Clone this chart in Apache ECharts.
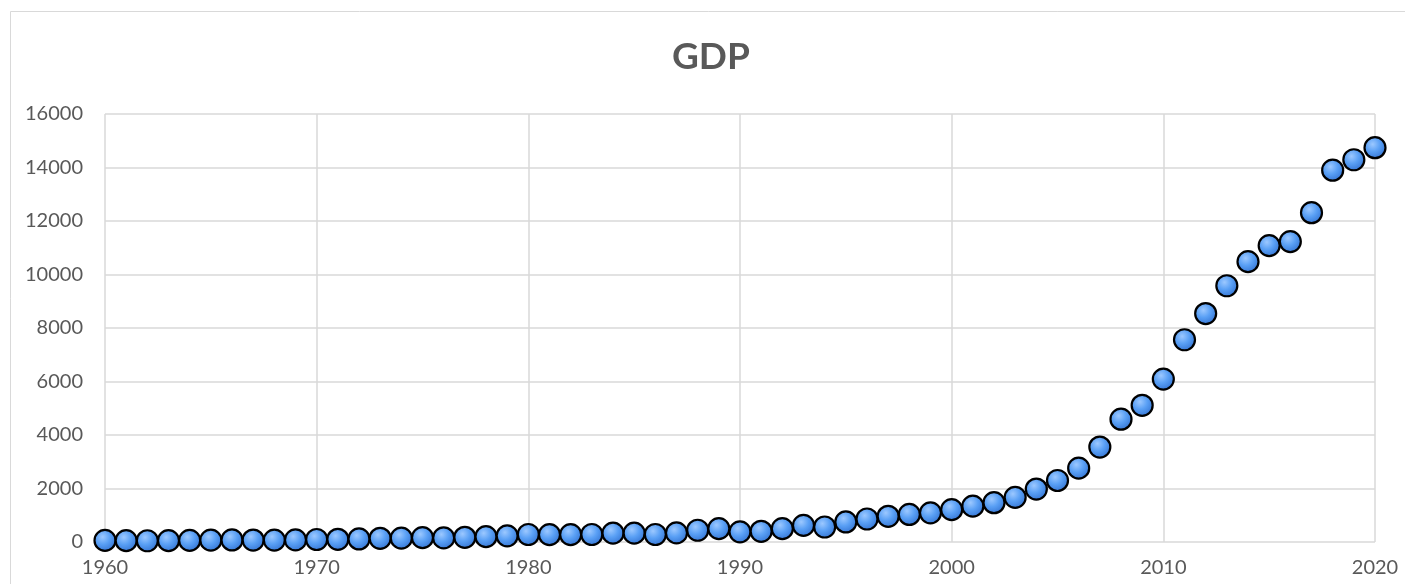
<!DOCTYPE html>
<html>
<head>
<meta charset="utf-8">
<script src="https://cdn.jsdelivr.net/npm/echarts@6/dist/echarts.min.js"></script>
<style>
html,body{margin:0;padding:0;background:#fff;}
#chart{width:1405px;height:584px;}
</style>
</head>
<body>
<div id="chart"></div>
<script>
const years = [1960,1961,1962,1963,1964,1965,1966,1967,1968,1969,
  1970,1971,1972,1973,1974,1975,1976,1977,1978,1979,
  1980,1981,1982,1983,1984,1985,1986,1987,1988,1989,
  1990,1991,1992,1993,1994,1995,1996,1997,1998,1999,
  2000,2001,2002,2003,2004,2005,2006,2007,2008,2009,
  2010,2011,2012,2013,2014,2015,2016,2017,2018,2019,2020];
const gdp = [60,50,47,51,60,70,77,73,71,79,
  93,100,114,139,144,163,154,175,200,230,
  280,275,275,280,330,330,280,340,440,500,
  380,400,500,620,560,750,860,960,1030,1090,
  1210,1340,1470,1670,1980,2300,2760,3550,4590,5110,
  6090,7560,8540,9580,10480,11080,11230,12310,13900,14290,14740];
const yTicks = {min:0, max:16000, interval:2000};
const xTicks = {min:1960, max:2020, interval:10};

const points = years.map((y,i)=>[y,gdp[i]]);
const chart = echarts.init(document.getElementById('chart'));
const font = 'Lato, "Open Sans", sans-serif';
chart.setOption({
  backgroundColor:'#fff',
  animation:false,
  graphic:[{type:'rect',shape:{x:10.5,y:11.5,width:1420,height:620},
    style:{fill:'none',stroke:'#d9d9d9',lineWidth:1},silent:true,z:-1}],
  title:{text:'GDP',left:667,top:34,
    textStyle:{fontFamily:font,fontSize:37,fontWeight:'bold',color:'#595959'}},
  grid:{left:105,right:30,top:114,bottom:42,containLabel:false},
  xAxis:{type:'value',min:xTicks.min,max:xTicks.max,interval:xTicks.interval,
    axisLine:{show:false},axisTick:{show:false},
    axisLabel:{color:'#595959',fontFamily:font,fontSize:20,margin:16,formatter:v=>String(v)},
    splitLine:{show:true,lineStyle:{color:'#d9d9d9',width:1.5}}},
  yAxis:{type:'value',min:yTicks.min,max:yTicks.max,interval:yTicks.interval,
    axisLine:{show:false},axisTick:{show:false},
    axisLabel:{color:'#595959',fontFamily:font,fontSize:20,margin:22,formatter:v=>String(v)},
    splitLine:{show:true,lineStyle:{color:'#d9d9d9',width:1.5}}},
  series:[{type:'scatter',data:points,symbol:'circle',symbolSize:21,
    itemStyle:{
      color:new echarts.graphic.RadialGradient(0.4,0.35,0.7,[
        {offset:0,color:'#9cc8ff'},{offset:0.45,color:'#5aa0f5'},{offset:1,color:'#2f6fd0'}]),
      borderColor:'#000',borderWidth:2.2,opacity:1}
  }]
});
</script>
</body>
</html>
